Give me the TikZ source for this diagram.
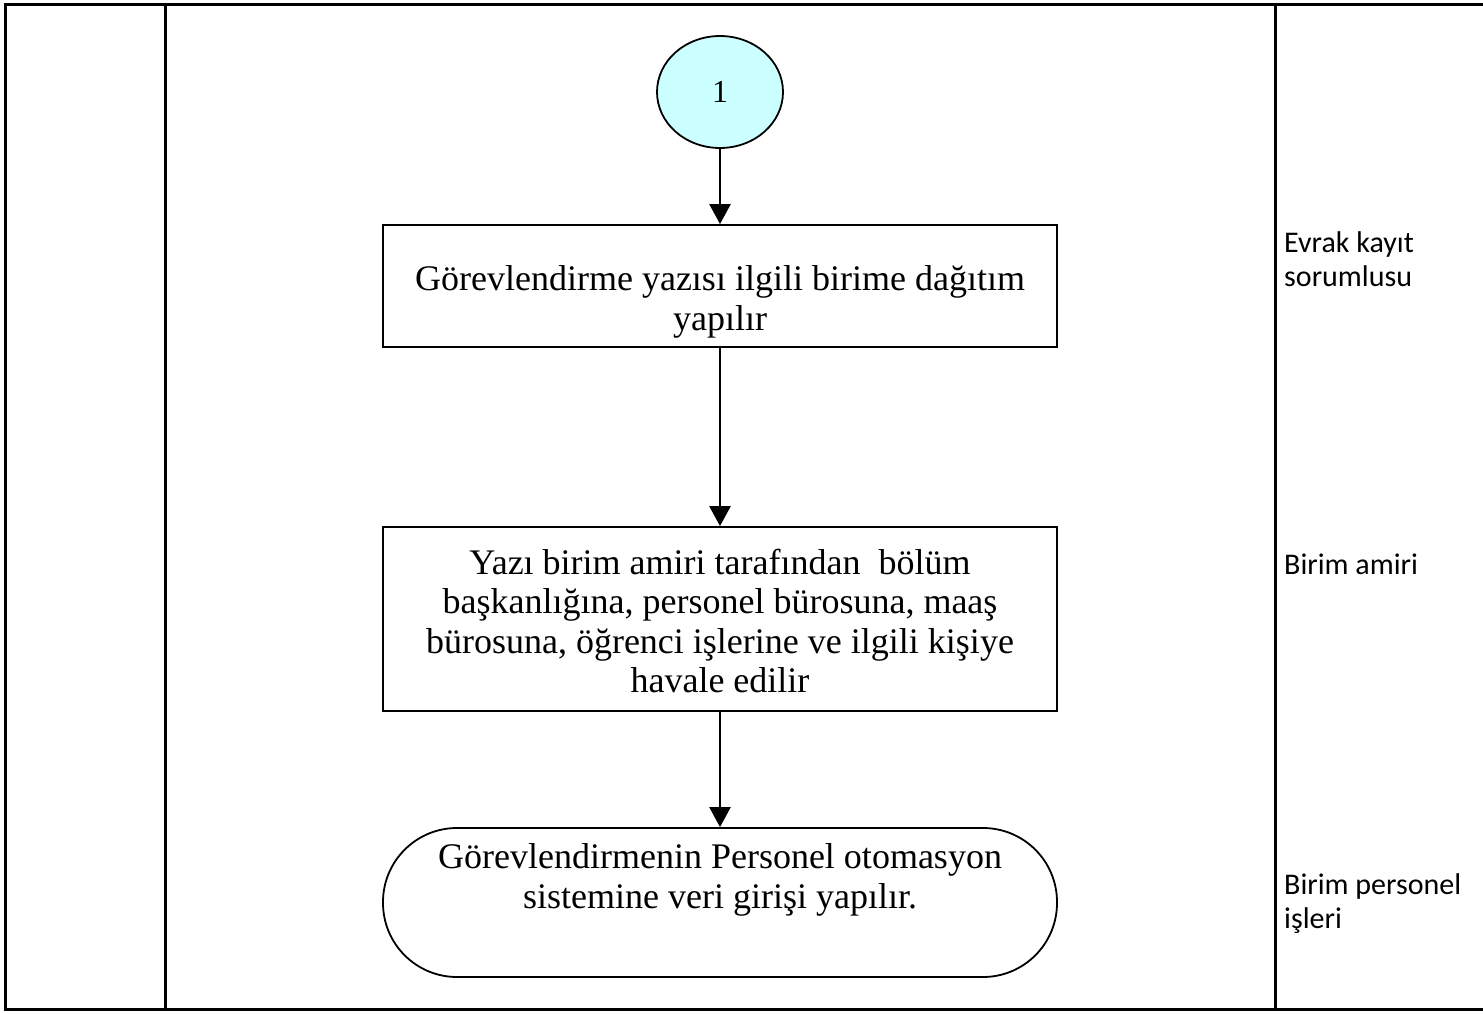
\documentclass[tikz,border=0pt]{standalone}
\usepackage{fontspec}
\setmainfont{Liberation Serif}
\newfontfamily\rolefont{Carlito}
\usetikzlibrary{arrows.meta,shapes.geometric}
\definecolor{startfill}{RGB}{204,255,255}
\begin{document}
\begin{tikzpicture}[x=1pt,y=-1pt,
  frame/.style={line width=3pt},
  procbox/.style={draw, line width=1.8pt, minimum width=674pt, inner sep=0pt},
  steptext/.style={align=center, inner sep=0pt, font=\fontsize{36}{39.5}\selectfont},
  roletext/.style={anchor=base west, align=left, inner sep=0pt, font=\rolefont\fontsize{30}{34}\selectfont},
  flow/.style={line width=2.5pt, -{Triangle[width=21pt,length=20pt]}}]
\useasboundingbox (0,0) rectangle (1483,1014);

% table grid
\draw[frame] (1483,5) -- (5,5) -- (5,1009) -- (1483,1009);
\draw[frame] (165,5) -- (165,1009);
\draw[frame] (1275,5) -- (1275,1009);

% connector circle
\node[ellipse, draw, line width=1.8pt, fill=startfill, minimum width=126pt, minimum height=112pt,
      font=\fontsize{32}{36}\selectfont] (start) at (720,92) {1};

% process steps
\node[procbox, minimum height=122pt] (box1) at (720,286) {};
\node[steptext] (txt1) at (720,302) {Görevlendirme yazısı ilgili birime dağıtım\\yapılır};

\node[procbox, minimum height=184pt] (box2) at (720,619) {};
\node[steptext] (txt2) at (720,621) {Yazı birim amiri tarafından\ \ bölüm\\başkanlığına, personel bürosuna, maaş\\bürosuna, öğrenci işlerine ve ilgili kişiye\\havale edilir};

\node[procbox, minimum height=149pt, rounded corners=74pt] (finish) at (720,902.5) {};
\node[steptext] (txt3) at (720,880) {Görevlendirmenin Personel otomasyon\\sistemine veri girişi yapılır.};

% flow
\draw[flow] (start.south) -- (box1.north);
\draw[flow] (box1.south) -- (box2.north);
\draw[flow] (box2.south) -- (finish.north);

% responsible roles (base = last line)
\node[roletext] (role1) at (1284,286) {Evrak kayıt\\sorumlusu};
\node[roletext] (role2) at (1284,574) {Birim amiri};
\node[roletext] (role3) at (1284,928) {Birim personel\\işleri};
\end{tikzpicture}
\end{document}
